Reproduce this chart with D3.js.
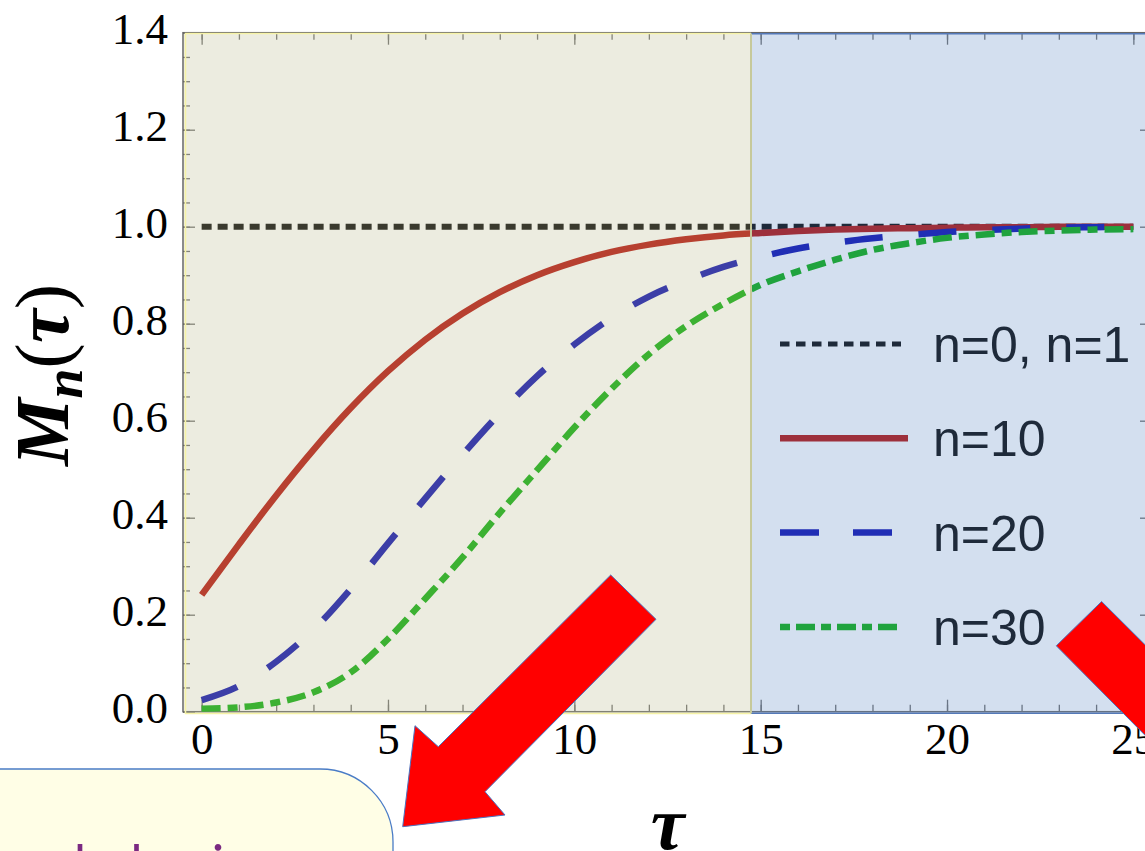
<!DOCTYPE html>
<html>
  <head>
    <meta charset="utf-8">
    <script src="https://d3js.org/d3.v7.min.js"></script>
    <style>
      body { margin: 0; background: #fff; }
      svg { display: block; }
      .tick text { font-family: 'Liberation Serif', 'Times New Roman', serif; font-size: 45px; fill: #000; }
      .legend_label { font-family: 'Liberation Sans', Arial, sans-serif; font-size: 50px; fill: #000; }
      .axis_title { font-family: 'Liberation Serif', 'Times New Roman', serif; font-weight: bold; font-style: italic; font-size: 76px; fill: #000; }
      .note { font-family: 'Comic Sans MS', Lato, sans-serif; font-size: 52px; fill: #7b2a82; }
    </style>
  </head>
  <body>
    <svg></svg>

    <script type="text/javascript">
      // values
      const tau = [0, 1, 2, 3, 4, 5, 6, 7, 8, 9, 10, 11, 12, 13, 14, 15, 16, 17, 18, 19, 20, 21, 22, 23, 24, 25]
      const m10 = [0.241, 0.345, 0.446, 0.540, 0.626, 0.702, 0.767, 0.821, 0.865, 0.900, 0.927, 0.948, 0.963,
                   0.974, 0.982, 0.987, 0.991, 0.994, 0.996, 0.997, 0.998, 0.999, 0.999, 1.0, 1.0, 1.0]
      const m20 = [0.024, 0.053, 0.103, 0.169, 0.253, 0.347, 0.440, 0.530, 0.615, 0.692, 0.757, 0.812, 0.856,
                   0.889, 0.917, 0.938, 0.955, 0.967, 0.976, 0.983, 0.989, 0.993, 0.996, 0.998, 0.999, 1.0]
      const m30 = [0.006, 0.009, 0.019, 0.040, 0.081, 0.150, 0.233, 0.318, 0.410, 0.498, 0.586, 0.666, 0.737,
                   0.795, 0.841, 0.880, 0.908, 0.932, 0.952, 0.966, 0.977, 0.984, 0.989, 0.992, 0.994, 0.995]
      const tauFlat = [0, 25]
      const m01 = [1, 1]

      const labels = ['n=0, n=1', 'n=10', 'n=20', 'n=30']
      const xTicks = [0, 5, 10, 15, 20, 25]
      const yTicks = [0, 0.2, 0.4, 0.6, 0.8, 1.0, 1.2, 1.4]

      const width = 1145
      const height = 851

      const svg =
        d3.select('svg')
          .attr('width', width)
          .attr('height', height)

      const x = d3.scaleLinear().domain([-0.5, 25.5]).range([183, 1152])
      const y = d3.scaleLinear().domain([0, 1.4]).range([711.7, 32.7])

      const series = [
        {label: labels[0], xs: tauFlat, ys: m01, color: '#000000', dash: '10,6'},
        {label: labels[1], xs: tau, ys: m10, color: '#b30903', dash: null},
        {label: labels[2], xs: tau, ys: m20, color: '#0306ae', dash: '38,36'},
        {label: labels[3], xs: tau, ys: m30, color: '#03ab06', dash: '19,7,10,7'}
      ]
      const legendDash = ['9.5,6.5', null, '39,34', '10,6,19,6']

      svg.append('defs').append('clipPath')
          .attr('id', 'plot_clip')
        .append('rect')
          .attr('x', x.range()[0])
          .attr('y', y.range()[1])
          .attr('width', x.range()[1] - x.range()[0])
          .attr('height', y.range()[0] - y.range()[1])

      // frame ticks, all pointing inwards
      const frame = svg.append('g').attr('class', 'frame')

      const styleAxis = g => {
        g.select('.domain').remove()
        g.selectAll('.tick line').attr('stroke', '#6a6a6a').attr('stroke-width', 1.3)
      }

      frame.append('g')
        .attr('transform', `translate(0,${y.range()[0]})`)
        .call(d3.axisBottom(x).tickValues(d3.range(0, 26, 1)).tickSize(-7).tickFormat(''))
        .call(styleAxis)
      frame.append('g')
        .attr('transform', `translate(0,${y.range()[0]})`)
        .call(d3.axisBottom(x).tickValues(xTicks).tickSize(-12).tickPadding(10).tickFormat(d3.format('d')))
        .call(styleAxis)
      frame.append('g')
        .attr('transform', `translate(0,${y.range()[1]})`)
        .call(d3.axisTop(x).tickValues(d3.range(0, 26, 1)).tickSize(-7).tickFormat(''))
        .call(styleAxis)
      frame.append('g')
        .attr('transform', `translate(0,${y.range()[1]})`)
        .call(d3.axisTop(x).tickValues(xTicks).tickSize(-12).tickFormat(''))
        .call(styleAxis)

      frame.append('g')
        .attr('transform', `translate(${x.range()[0]},0)`)
        .call(d3.axisLeft(y).tickValues(d3.range(0, 1.401, 0.05)).tickSize(-7).tickFormat(''))
        .call(styleAxis)
      frame.append('g')
        .attr('transform', `translate(${x.range()[0]},0)`)
        .call(d3.axisLeft(y).tickValues(yTicks).tickSize(-12).tickPadding(15).tickFormat(d3.format('.1f')))
        .call(styleAxis)
        .call(g => g.selectAll('.tick text').attr('dy', '0.25em'))
      frame.append('g')
        .attr('transform', `translate(${x.range()[1]},0)`)
        .call(d3.axisRight(y).tickValues(d3.range(0, 1.401, 0.05)).tickSize(-7).tickFormat(''))
        .call(styleAxis)
      frame.append('g')
        .attr('transform', `translate(${x.range()[1]},0)`)
        .call(d3.axisRight(y).tickValues(yTicks).tickSize(-12).tickFormat(''))
        .call(styleAxis)

      frame.append('rect')
        .attr('x', x.range()[0])
        .attr('y', y.range()[1])
        .attr('width', x.range()[1] - x.range()[0])
        .attr('height', y.range()[0] - y.range()[1])
        .attr('fill', 'none')
        .attr('stroke', '#666')
        .attr('stroke-width', 1.5)

      // curves
      const line = d3.line()
        .x(d => x(d[0]))
        .y(d => y(d[1]))
        .curve(d3.curveMonotoneX)

      svg.append('g')
          .attr('clip-path', 'url(#plot_clip)')
        .selectAll('.curve')
        .data(series)
        .enter()
        .append('path')
          .attr('class', 'curve')
          .attr('d', s => line(s.xs.map((t, i) => [t, s.ys[i]])))
          .attr('fill', 'none')
          .attr('stroke', s => s.color)
          .attr('stroke-width', s => s.dash === '10,6' ? 6 : 6.5)
          .attr('stroke-dasharray', s => s.dash)

      // legend
      const legend =
        svg.selectAll('.legend_item')
          .data(series)
          .enter()
          .append('g')
            .attr('class', 'legend_item')
            .attr('transform', (d, i) => `translate(780,${344 + i * 94.3})`)

      legend.append('line')
        .attr('x1', 0)
        .attr('x2', (d, i) => [121, 128, 113, 119][i])
        .attr('stroke', d => d.color)
        .attr('stroke-width', (d, i) => i === 0 ? 5 : 6.5)
        .attr('stroke-dasharray', (d, i) => legendDash[i])

      legend.append('text')
        .attr('class', 'legend_label')
        .attr('x', 153)
        .attr('y', 18)
        .text(d => d.label)

      // translucent slide overlays
      const xSplit = 751
      svg.append('rect')
        .attr('x', 184)
        .attr('y', 33.5)
        .attr('width', xSplit - 184)
        .attr('height', 713 - 33.5)
        .attr('fill', '#c1c199')
        .attr('fill-opacity', 0.3)
      svg.append('rect')
        .attr('x', xSplit)
        .attr('y', 33.5)
        .attr('width', 1160 - xSplit)
        .attr('height', 713 - 33.5)
        .attr('fill', '#6791c8')
        .attr('fill-opacity', 0.29)

      svg.append('path')
        .attr('d', `M${xSplit},33.5H185.5V713.5H${xSplit}`)
        .attr('fill', 'none')
        .attr('stroke', '#f6f3a6')
        .attr('stroke-width', 1.5)
      svg.append('path')
        .attr('d', `M1160,33.8H${xSplit}M${xSplit},713.3H1160`)
        .attr('fill', 'none')
        .attr('stroke', '#5479b8')
        .attr('stroke-width', 1.5)
      svg.append('line')
        .attr('x1', xSplit)
        .attr('x2', xSplit)
        .attr('y1', 33.5)
        .attr('y2', 713.5)
        .attr('stroke', '#c6c99a')
        .attr('stroke-width', 2)

      // axis titles
      const yTitle =
        svg.append('text')
          .attr('class', 'axis_title')
          .attr('transform', 'translate(68,375) rotate(-90)')
          .attr('text-anchor', 'middle')
      yTitle.append('tspan').text('M')
      yTitle.append('tspan').attr('font-size', '54px').attr('dy', 14).text('n')
      yTitle.append('tspan').attr('dy', -14).attr('font-weight', 'normal').attr('font-style', 'normal').text('(')
      yTitle.append('tspan').text('τ')
      yTitle.append('tspan').attr('font-weight', 'normal').attr('font-style', 'normal').text(')')

      svg.append('text')
        .attr('class', 'axis_title')
        .attr('x', d3.mean(x.range()))
        .attr('y', 849)
        .attr('text-anchor', 'middle')
        .text('τ')

      // callout box
      svg.append('rect')
        .attr('x', -120)
        .attr('y', 769)
        .attr('width', 513)
        .attr('height', 260)
        .attr('rx', 73)
        .attr('fill', '#fffee6')
        .attr('stroke', '#4a7cc6')
        .attr('stroke-width', 1.3)

      svg.append('text')
        .attr('class', 'note')
        .attr('x', 74)
        .attr('y', 882)
        .text('behavior')

      // red arrows
      const arrowShape = [
        [-22.7, -22.2], [22.6, 22.1], [-148.4, 194.5], [-128.4, 217.8],
        [-230.7, 229.5], [-218.4, 128.5], [-195.1, 149.5]
      ]
      const arrows = [
        {cx: 633.4, cy: 597.2, flip: 1},
        {cx: 1078.9, cy: 623.7, flip: -1}
      ]

      svg.selectAll('.arrow')
        .data(arrows)
        .enter()
        .append('polygon')
          .attr('class', 'arrow')
          .attr('points', a => arrowShape.map(p => [a.cx + a.flip * p[0], a.cy + p[1]].join(',')).join(' '))
          .attr('fill', '#ff0000')
          .attr('stroke', '#4a72c0')
          .attr('stroke-width', 1)
    </script>
  </body>
</html>
